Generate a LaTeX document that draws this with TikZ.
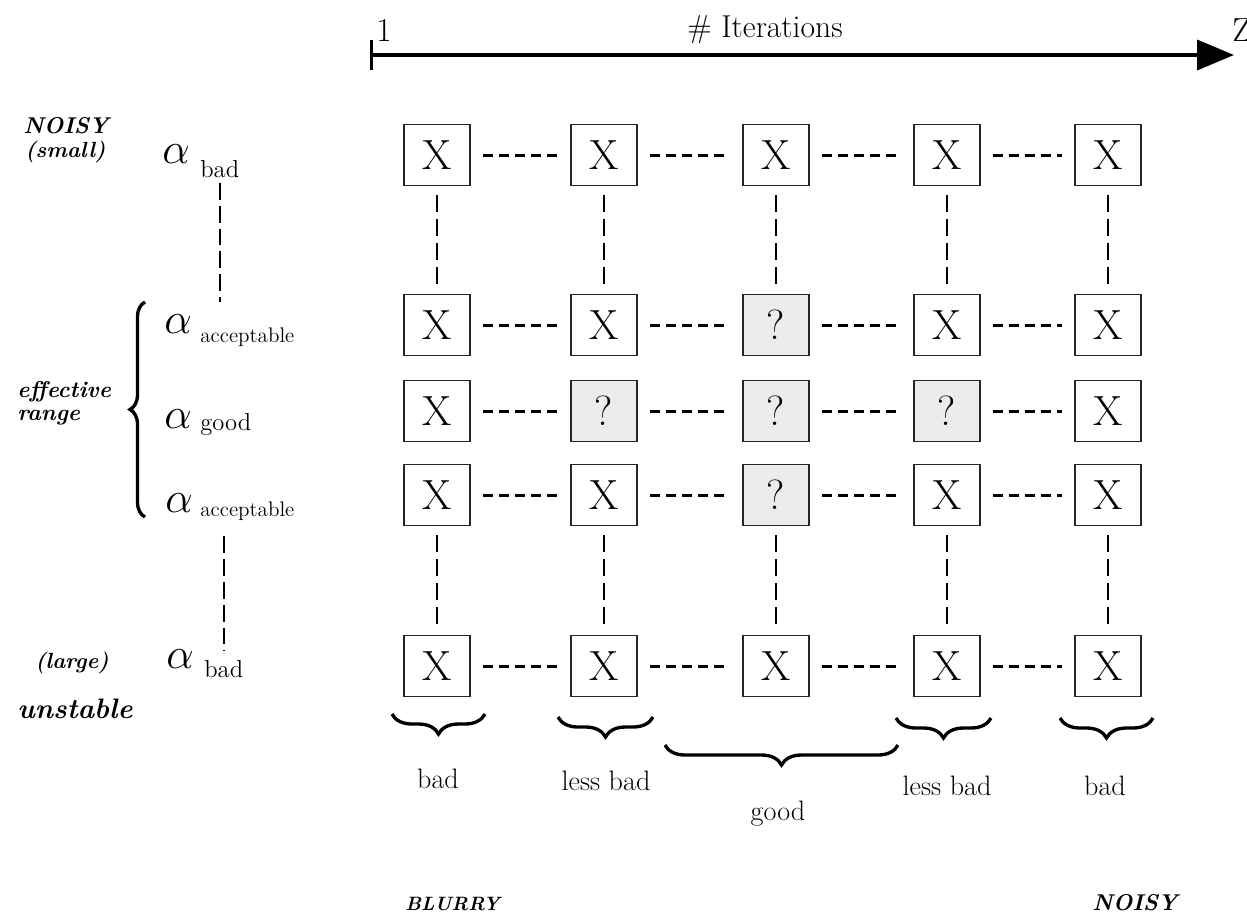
\documentclass[tikz,border=0pt]{standalone}
\usepackage{fontspec}
\usetikzlibrary{arrows.meta,decorations.pathreplacing}

\tikzset{
  cell/.style={draw=black!85,line width=1.1pt,minimum width=1.32cm,minimum height=1.22cm,inner sep=0pt,font=\fontsize{24}{24}\selectfont},
  cellx/.style={node contents=X},
  cellq/.style={fill=gray!15,node contents=?},
  hdash/.style={line width=1.7pt,dash pattern=on 5.7pt off 3.4pt,shorten <=7pt,shorten >=7pt},
  vdash/.style={line width=0.8pt,dash pattern=on 9.6pt off 4pt,shorten <=5pt,shorten >=5pt},
  adash/.style={line width=0.9pt,dash pattern=on 9.6pt off 3.4pt},
  curly/.style={decorate,decoration={brace,mirror,amplitude=#1},line width=1.9pt},
  lbl/.style={font=\fontsize{16}{16}\selectfont,anchor=base,inner sep=0pt},
  sidetxt/.style={font=\bfseries\itshape\fontsize{#1}{#1}\selectfont,anchor=base west,inner sep=0pt},
  alphatxt/.style={font=\fontsize{27}{27}\selectfont,anchor=base west,inner sep=0pt},
  subtxt/.style={font=\fontsize{#1}{#1}\selectfont,anchor=base west,inner sep=0pt},
}

\begin{document}
\begin{tikzpicture}[x=0.02cm,y=-0.02cm]
  \useasboundingbox (0,0) rectangle (1247,914);

  % iterations axis
  \coordinate (first) at (370,55);
  \coordinate (last) at (1234,55);
  \draw[line width=2.2pt,{Bar[width=17pt,line width=1.6pt]}-{Triangle[length=21pt,width=17pt]}] (first) -- (last);
  \node[lbl,font=\fontsize{19}{19}\selectfont] (one) at (384,41) {1};
  \node[lbl,font=\fontsize{18}{18}\selectfont] (iter) at (765,37) {\# Iterations};
  \node[lbl,anchor=base west,font=\fontsize{19}{19}\selectfont] (zed) at (1232,41) {Z};

  % grid of cells
  \foreach \c/\x in {1/437,2/604,3/776,4/947,5/1108}
    \coordinate (col\c) at (\x,0);

  \foreach \r/\y/\marks in {1/155/{x,x,x,x,x},2/325/{x,x,q,x,x},3/411/{x,q,q,q,x},4/495/{x,x,q,x,x},5/666/{x,x,x,x,x}}
    \foreach \m [count=\c] in \marks
      \node (c\r\c) at (col\c |- 0,\y) [cell,cell\m];

  \foreach \r in {1,...,5}
    \foreach \c [count=\nxt from 2] in {1,...,4}
      \draw[hdash] (c\r\c) -- (c\r\nxt);

  \foreach \c in {1,...,5} {
    \draw[vdash] (c1\c) -- (c2\c);
    \draw[vdash] (c4\c) -- (c5\c);
  }

  % step sizes
  \node[alphatxt] (abad1) at (162,163) {$\alpha$};
  \node[subtxt=14] (sbad1) at (200,177) {bad};
  \node[alphatxt] (aacc1) at (164,333) {$\alpha$};
  \node[subtxt=12] (sacc1) at (200,342) {acceptable};
  \node[alphatxt] (agood) at (164,428) {$\alpha$};
  \node[subtxt=14] (sgood) at (200,430) {good};
  \node[alphatxt] (aacc2) at (165,512) {$\alpha$};
  \node[subtxt=12] (sacc2) at (200,516) {acceptable};
  \node[alphatxt] (abad2) at (166,668) {$\alpha$};
  \node[subtxt=14] (sbad2) at (204,677) {bad};

  \draw[adash,shorten <=3pt,shorten >=7pt] (sbad1.south) -- (sbad1.south |- aacc1.north);
  \draw[adash,shorten <=9pt,shorten >=5pt] (sbad2.north |- sacc2.south) -- (sbad2.north);
  \draw[curly=0.3cm] (145,302) -- (145,517);

  \node[sidetxt=13] (noisy1) at (23,133) {NOISY};
  \node[sidetxt=12.5] (small) at (25,157) {(small)};
  \node[sidetxt=13] (eff) at (17,397) {effective};
  \node[sidetxt=13] (rng) at (17,420) {range};
  \node[sidetxt=12.5] (large) at (35,668) {(large)};
  \node[sidetxt=16] (unst) at (17,718) {unstable};

  % quality of the iterations
  \draw[curly=0.4cm] (392,714) -- (485,714);
  \draw[curly=0.4cm] (558,717) -- (653,717);
  \draw[curly=0.4cm] (665,745) -- (898,745);
  \draw[curly=0.4cm] (896,718) -- (991,718);
  \draw[curly=0.4cm] (1060,718) -- (1153,718);

  \node[lbl] (bad1) at (438,788) {bad};
  \node[lbl] (lbad1) at (606,790) {less bad};
  \node[lbl] (good) at (778,820) {good};
  \node[lbl] (lbad2) at (947,795) {less bad};
  \node[lbl] (bad2) at (1105,795) {bad};

  \node[sidetxt=11] (blurry) at (405,910) {BLURRY};
  \node[sidetxt=13] (noisy2) at (1092,910) {NOISY};
\end{tikzpicture}
\end{document}
